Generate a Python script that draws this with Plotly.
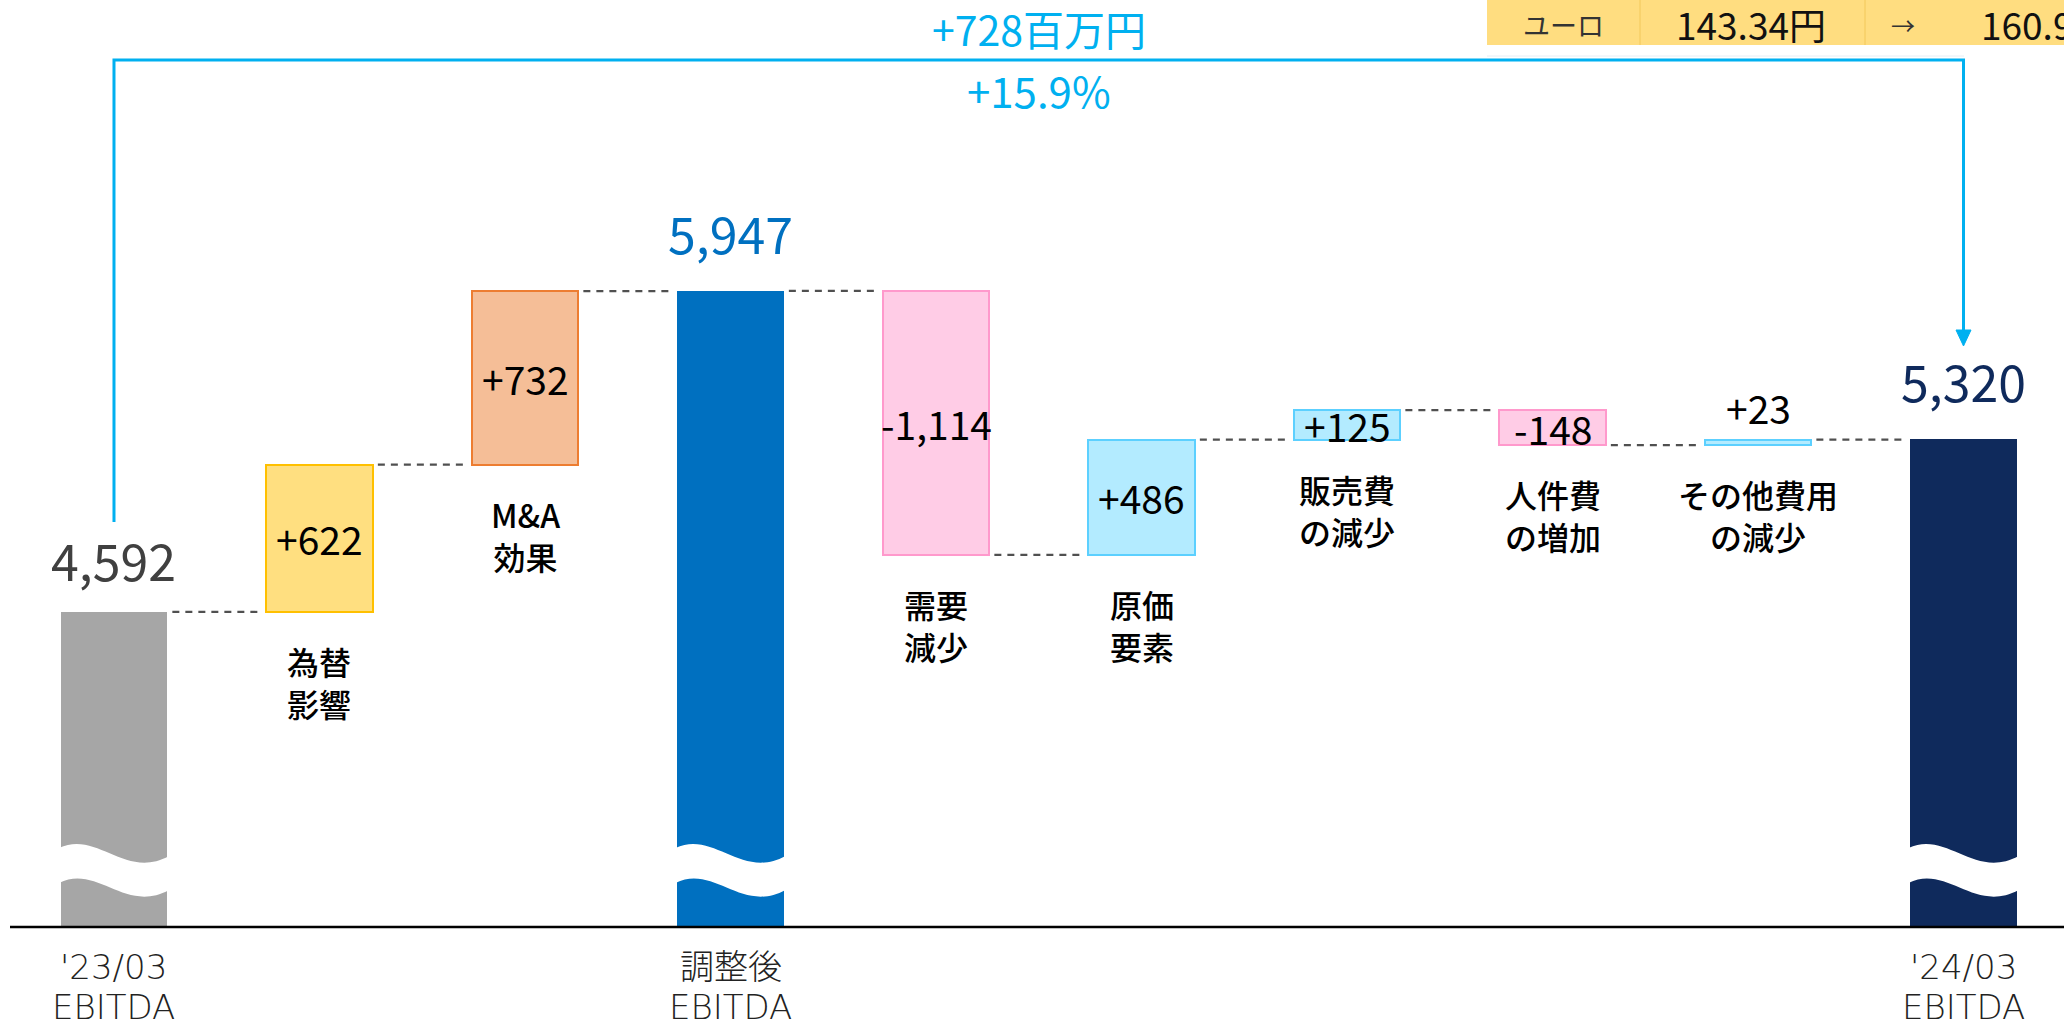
import plotly.graph_objects as go

# ---------------- data ----------------
categories = ["'23/03\nEBITDA", "為替\n影響", "M&A\n効果", "調整後\nEBITDA", "需要\n減少",
              "原価\n要素", "販売費\nの減少", "人件費\nの増加", "その他費用\nの減少", "'24/03\nEBITDA"]
measures = ["total", "relative", "relative", "total", "relative",
            "relative", "relative", "relative", "relative", "total"]
values = [4592, 622, 732, 5947, -1114, 486, 125, -148, 23, 5320]

fill_colors = ["#A6A6A6", "#FFDF80", "#F5BE97", "#0070C0", "#FFCCE6",
               "#B3EBFF", "#B3EBFF", "#FFCCE6", "#B3EBFF", "#0F2A5C"]
line_colors = ["#A6A6A6", "#FFC000", "#ED7D31", "#0070C0", "#FF99CC",
               "#5CD0FF", "#5CD0FF", "#FF99CC", "#5CD0FF", "#0F2A5C"]
total_label_colors = {0: "#404040", 3: "#0070C0", 9: "#0F2A5C"}
total_label_shift = {0: 53, 3: 59, 9: 59}

change_text = "+728百万円"
change_pct = "+15.9%"
fx_table = ["ユーロ", "143.34円", "→", "160.99円"]

# ---------------- layout constants ----------------
W, H = 2064, 1025
MB = 98                      # bottom margin (axis baseline)
PH = H - MB                  # plot height in px
Y_RANGE = [3262, 7175]
X_RANGE = [-0.5547, 9.489]
BAR_W = 0.516
FONT = "Noto Sans CJK JP, Noto Sans, sans-serif"
AXIS_FONT = "DejaVu Sans, Noto Sans CJK JP, sans-serif"


def py(p):
    """pixel row (from top) -> paper y"""
    return (PH - p) / PH


def px(p):
    return p / W


# ---------------- compute bars ----------------
bases, heights, levels = [], [], []
running = 0
for v, m in zip(values, measures):
    if m == "total":
        bases.append(0)
        heights.append(v)
        running = v
    else:
        start, end = running, running + v
        bases.append(min(start, end))
        heights.append(abs(v))
        running = end
    levels.append(running)

xs = list(range(len(values)))
line_widths = [0 if m == "total" else 2 for m in measures]

fig = go.Figure()
fig.add_trace(go.Bar(
    x=xs, y=heights, base=bases, width=BAR_W,
    marker=dict(color=fill_colors, line=dict(color=line_colors, width=line_widths)),
    hoverinfo="skip", showlegend=False,
))

# connectors
gap = 0.026
for i in range(len(values) - 1):
    fig.add_trace(go.Scatter(
        x=[i + BAR_W / 2 + gap, i + 1 - BAR_W / 2 - gap],
        y=[levels[i], levels[i]],
        mode="lines", line=dict(color="#505050", width=2.2, dash="7px,6px"),
        hoverinfo="skip", showlegend=False,
    ))

shapes = []
annotations = []

# wave breaks on total bars (white bands)
for i, m in enumerate(measures):
    if m != "total":
        continue
    L = i - BAR_W / 2 - 0.01
    R = i + BAR_W / 2 + 0.01
    Wd = R - L
    path = (f"M {L},{py(848)} C {L + 0.35 * Wd},{py(830)} {L + 0.6 * Wd},{py(880)} {R},{py(856)} "
            f"L {R},{py(890)} C {L + 0.6 * Wd},{py(914)} {L + 0.35 * Wd},{py(864)} {L},{py(883)} Z")
    shapes.append(dict(type="path", path=path, xref="x", yref="paper",
                       fillcolor="white", line=dict(width=0), layer="above"))

# baseline axis
shapes.append(dict(type="line", xref="paper", yref="paper", x0=px(10), x1=1, y0=0, y1=0,
                   line=dict(color="black", width=2.5)))

# bracket & arrow
cyan = "#00B0F0"
first, last = 0, len(values) - 1
shapes.append(dict(type="path", xref="x", yref="paper",
                   path=f"M {first},{py(522)} L {first},{py(60)} L {last},{py(60)} L {last},{py(331)}",
                   line=dict(color=cyan, width=3)))
dx = 7.5 / 205.5
shapes.append(dict(type="path", xref="x", yref="paper",
                   path=f"M {last - dx},{py(330)} L {last + dx},{py(330)} L {last},{py(346)} Z",
                   fillcolor=cyan, line=dict(color=cyan, width=1)))
mid = (first + last) / 2
annotations.append(dict(x=mid, y=py(28), xref="x", yref="paper", text=change_text, showarrow=False,
                        font=dict(family=FONT, size=41, color=cyan), xanchor="center", yanchor="middle"))
annotations.append(dict(x=mid, y=py(90), xref="x", yref="paper", text=change_pct, showarrow=False,
                        font=dict(family=FONT, size=42, color=cyan), xanchor="center", yanchor="middle"))

# FX table (top right)
shapes.append(dict(type="rect", xref="paper", yref="paper", x0=px(1487), x1=1, y0=py(45), y1=py(0),
                   fillcolor="#FFDD80", line=dict(width=0), layer="below"))
for xd in (1640, 1865):
    shapes.append(dict(type="line", xref="paper", yref="paper", x0=px(xd), x1=px(xd), y0=py(45), y1=py(0),
                       line=dict(color="#F2C85A", width=1)))
shapes.append(dict(type="line", xref="paper", yref="paper", x0=px(1487), x1=px(1964), y0=py(56), y1=py(56),
                   line=dict(color="#E6EEF5", width=1)))
table_pos = [(1563, "center", 27, "#333333"), (1751, "center", 37, "#111111"),
             (1903, "center", 24, "#333333"), (1979, "left", 37, "#111111")]
for txt, (xp, anc, sz, col) in zip(fx_table, table_pos):
    annotations.append(dict(x=px(xp), y=py(24), xref="paper", yref="paper", text=txt, showarrow=False,
                            xanchor=anc, yanchor="middle", font=dict(family=FONT, size=sz, color=col)))

# value labels & category labels
for i, (v, m) in enumerate(zip(values, measures)):
    lines = categories[i].split("\n")
    if m == "total":
        annotations.append(dict(x=i, y=v, xref="x", yref="y", text=f"{v:,}", showarrow=False,
                                yshift=total_label_shift[i], xanchor="center", yanchor="middle",
                                font=dict(family=FONT, size=50, color=total_label_colors[i])))
        for ln, pyy in zip(lines, (967, 1007)):
            annotations.append(dict(x=i, y=py(pyy), xref="x", yref="paper", text=ln, showarrow=False,
                                    xanchor="center", yanchor="middle",
                                    font=dict(family=AXIS_FONT, size=34, color="#222222", weight=300)))
    else:
        lo, hi = bases[i], bases[i] + heights[i]
        if heights[i] >= 100:
            annotations.append(dict(x=i, y=(lo + hi) / 2, xref="x", yref="y", text=f"{v:+,}",
                                    showarrow=False, xanchor="center", yanchor="middle",
                                    font=dict(family=FONT, size=39, color="#000000")))
        else:
            annotations.append(dict(x=i, y=hi, xref="x", yref="y", text=f"{v:+,}",
                                    showarrow=False, xanchor="center", yanchor="middle", yshift=33,
                                    font=dict(family=FONT, size=39, color="#000000")))
        annotations.append(dict(x=i, y=lo, xref="x", yref="y", text="<br>".join(lines), showarrow=False,
                                xanchor="center", yanchor="top", yshift=-24,
                                font=dict(family=FONT, size=32, color="#000000", weight=500)))

fig.update_layout(
    width=W, height=H,
    margin=dict(l=0, r=0, t=0, b=MB, pad=0),
    paper_bgcolor="white", plot_bgcolor="white",
    xaxis=dict(range=X_RANGE, visible=False, fixedrange=True),
    yaxis=dict(range=Y_RANGE, visible=False, fixedrange=True),
    shapes=shapes, annotations=annotations,
    bargap=0, showlegend=False,
    font=dict(family=FONT),
)

fig.write_html("out.html", config={"displayModeBar": False},
               post_script="document.body.style.margin='0';document.body.style.overflow='hidden';")
